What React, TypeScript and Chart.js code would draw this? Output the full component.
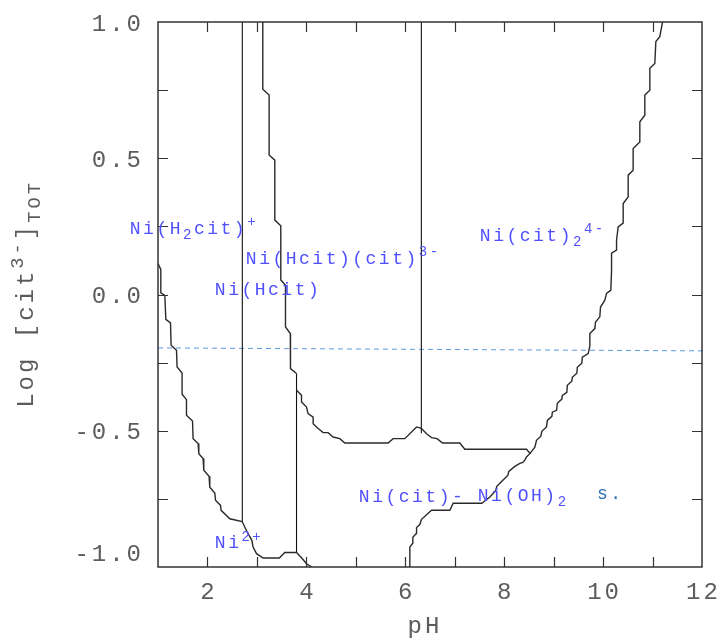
import React, { useEffect, useRef } from 'react';
import { Chart, registerables } from 'chart.js';
Chart.register(...registerables);

// Axis ticks
const pHTickLabels = [2, 4, 6, 8, 10, 12];
const pHMinorTicks = [2, 3, 4, 5, 6, 7, 8, 9, 10, 11];
const logTickLabels = [1.0, 0.5, 0.0, -0.5, -1.0];
const logMinorTicks = [0.75, 0.5, 0.25, 0.0, -0.25, -0.5, -0.75];

// Boundary: Ni(H2cit)+ / Ni2+ (left staircase + bottom)
const lowPH = [1.0, 1.057, 1.057, 1.138, 1.158, 1.253, 1.265, 1.374, 1.386, 1.487, 1.487, 1.576, 1.576, 1.698, 1.71, 1.811, 1.825, 1.912, 1.926, 2.033, 2.047, 2.149, 2.163, 2.264, 2.276, 2.452, 2.701, 2.796, 2.897, 2.923, 2.992, 3.125, 3.453, 3.564, 3.801, 3.902, 4.003, 4.11];
const lowLog = [0.114, 0.092, 0.006, -0.003, -0.091, -0.104, -0.186, -0.205, -0.266, -0.288, -0.366, -0.386, -0.443, -0.464, -0.529, -0.547, -0.584, -0.602, -0.645, -0.667, -0.707, -0.729, -0.755, -0.774, -0.792, -0.823, -0.833, -0.869, -0.902, -0.927, -0.951, -0.967, -0.967, -0.947, -0.947, -0.966, -0.988, -1.0];

// Boundary: Ni(Hcit) / Ni(Hcit)(cit)3-
const hcitPH = [3.119, 3.119, 3.247, 3.247, 3.362, 3.362, 3.483, 3.483, 3.578, 3.578, 3.675, 3.679, 3.801];
const hcitLog = [1.0, 0.753, 0.732, 0.512, 0.493, 0.273, 0.252, 0.053, 0.034, -0.119, -0.143, -0.272, -0.29];

// Boundary: Ni(cit)- / Ni(Hcit)(cit)3- , Ni(cit)2 4-
const midPH = [3.801, 3.902, 3.902, 4.003, 4.035, 4.137, 4.137, 4.238, 4.339, 4.44, 4.541, 4.676, 4.778, 5.653, 5.754, 5.991, 6.228, 6.325, 6.43, 6.531, 6.644, 6.753, 7.103, 7.204, 8.452, 8.529];
const midLog = [-0.351, -0.37, -0.394, -0.413, -0.437, -0.45, -0.474, -0.492, -0.507, -0.507, -0.523, -0.529, -0.545, -0.545, -0.529, -0.529, -0.486, -0.491, -0.511, -0.525, -0.529, -0.545, -0.545, -0.568, -0.568, -0.585];

// Boundary: Ni(OH)2 s.
const solidPH = [6.092, 6.092, 6.153, 6.153, 6.223, 6.228, 6.294, 6.329, 6.436, 6.531, 6.901, 6.968, 7.548, 7.71, 7.831, 7.851, 7.973, 8.074, 8.094, 8.216, 8.317, 8.377, 8.427, 8.452, 8.519, 8.62, 8.654, 8.741, 8.761, 8.856, 8.873, 8.964, 8.974, 9.059, 9.075, 9.166, 9.176, 9.267, 9.277, 9.368, 9.378, 9.469, 9.479, 9.57, 9.58, 9.698, 9.732, 9.732, 9.833, 9.847, 9.934, 9.948, 10.035, 10.07, 10.157, 10.171, 10.171, 10.272, 10.272, 10.305, 10.406, 10.406, 10.507, 10.507, 10.608, 10.608, 10.743, 10.743, 10.844, 10.844, 10.945, 10.945, 11.046, 11.067, 11.147, 11.202];
const solidLog = [-1.0, -0.927, -0.913, -0.891, -0.877, -0.855, -0.844, -0.825, -0.807, -0.792, -0.792, -0.766, -0.766, -0.743, -0.719, -0.704, -0.682, -0.664, -0.649, -0.631, -0.62, -0.616, -0.605, -0.596, -0.584, -0.56, -0.535, -0.52, -0.502, -0.486, -0.462, -0.447, -0.432, -0.425, -0.399, -0.384, -0.37, -0.359, -0.333, -0.318, -0.304, -0.289, -0.267, -0.252, -0.23, -0.217, -0.19, -0.143, -0.125, -0.101, -0.082, -0.046, -0.021, 0.004, 0.016, 0.089, 0.152, 0.163, 0.199, 0.248, 0.262, 0.334, 0.358, 0.438, 0.456, 0.536, 0.56, 0.634, 0.658, 0.732, 0.75, 0.83, 0.848, 0.928, 0.946, 1.0];

// Vertical boundaries
const vertPH = [2.705, 3.801, 6.325];
const vertTop = [1.0, -0.29, 1.0];
const vertBottom = [-0.833, -0.947, -0.509];

// Dashed reference line
const refPH = [1.0, 12.09];
const refLog = [-0.196, -0.207];

// Region labels
const regionLabels = ['Ni(H_{2}cit)^{+}', 'Ni(Hcit)(cit)^{3-}', 'Ni(Hcit)', 'Ni(cit)_{2}^{4-}', 'Ni^{2+}', 'Ni(cit)-', 'Ni(OH)_{2}', 's.'];
const labelPH = [0.43, 2.776, 2.149, 7.508, 2.149, 5.061, 7.467, 9.876];
const labelLog = [0.24, 0.13, 0.016, 0.214, -0.913, -0.744, -0.741, -0.733];
const labelColors = ['#5050ff', '#5050ff', '#5050ff', '#5050ff', '#5050ff', '#5050ff', '#5050ff', '#2f6fb0'];

const FONT = '"Liberation Mono", "DejaVu Sans Mono", monospace';

type Seg = { t: string; k: 'n' | 'sub' | 'sup' };
function parseRich(s: string): Seg[] {
  const segs: Seg[] = [];
  let i = 0;
  let buf = '';
  while (i < s.length) {
    const c = s[i];
    if ((c === '_' || c === '^') && s[i + 1] === '{') {
      if (buf) { segs.push({ t: buf, k: 'n' }); buf = ''; }
      const end = s.indexOf('}', i);
      segs.push({ t: s.slice(i + 2, end), k: c === '_' ? 'sub' : 'sup' });
      i = end + 1;
    } else {
      buf += c;
      i++;
    }
  }
  if (buf) segs.push({ t: buf, k: 'n' });
  return segs;
}

function richWidth(ctx: CanvasRenderingContext2D, segs: Seg[], size: number, spacing: number) {
  let w = 0;
  for (const s of segs) {
    const fs = s.k === 'n' ? size : size * 0.78;
    ctx.font = `${fs}px ${FONT}`;
    (ctx as any).letterSpacing = `${spacing}px`;
    w += ctx.measureText(s.t).width;
  }
  return w;
}

function drawRich(ctx: CanvasRenderingContext2D, segs: Seg[], x: number, y: number, size: number, spacing: number) {
  let cx = x;
  for (const s of segs) {
    const fs = s.k === 'n' ? size : size * 0.78;
    const dy = s.k === 'sub' ? size * 0.32 : s.k === 'sup' ? -size * 0.36 : 0;
    ctx.font = `${fs}px ${FONT}`;
    (ctx as any).letterSpacing = `${spacing}px`;
    ctx.fillText(s.t, cx, y + dy);
    cx += ctx.measureText(s.t).width;
  }
}

const framePlugin = {
  id: 'framePlugin',
  afterDraw(chart: any) {
    const { ctx, chartArea, scales } = chart;
    const xs = scales.x;
    const ys = scales.y;
    const { left, right, top, bottom } = chartArea;
    ctx.save();
    // frame
    ctx.strokeStyle = '#333';
    ctx.lineWidth = 1.5;
    ctx.strokeRect(left, top, right - left, bottom - top);
    // ticks
    ctx.lineWidth = 1.2;
    ctx.beginPath();
    for (const v of pHMinorTicks) {
      const px = Math.round(xs.getPixelForValue(v)) + 0.5;
      ctx.moveTo(px, bottom); ctx.lineTo(px, bottom - 10);
      ctx.moveTo(px, top); ctx.lineTo(px, top + 10);
    }
    for (const v of logMinorTicks) {
      const py = Math.round(ys.getPixelForValue(v)) + 0.5;
      ctx.moveTo(left, py); ctx.lineTo(left + 10, py);
      ctx.moveTo(right, py); ctx.lineTo(right - 10, py);
    }
    ctx.stroke();

    // tick labels
    ctx.fillStyle = '#5c5c5c';
    ctx.font = `24px ${FONT}`;
    (ctx as any).letterSpacing = '3px';
    ctx.textBaseline = 'middle';
    ctx.textAlign = 'center';
    for (const v of pHTickLabels) {
      const px = xs.getPixelForValue(v);
      ctx.fillText(String(v), px + 1.5, bottom + 26);
    }
    ctx.textAlign = 'right';
    for (const v of logTickLabels) {
      let py = ys.getPixelForValue(v) + 2;
      if (py > bottom - 12) py = bottom - 12;
      if (py < top + 3) py = top + 3;
      const txt = v.toFixed(1);
      ctx.fillText(txt, left - 14, py);
    }

    // axis titles
    ctx.textAlign = 'center';
    ctx.fillText('pH', 425, 627);
    ctx.textAlign = 'left';
    const ySegs = parseRich('Log [cit^{3-}]_{TOT}');
    ctx.save();
    ctx.translate(27, 294);
    ctx.rotate(-Math.PI / 2);
    const w = richWidth(ctx, ySegs, 24, 3);
    drawRich(ctx, ySegs, -w / 2, 0, 24, 3);
    ctx.restore();

    // region labels
    ctx.textAlign = 'left';
    ctx.textBaseline = 'middle';
    regionLabels.forEach((lab, i) => {
      ctx.fillStyle = labelColors[i];
      const px = xs.getPixelForValue(labelPH[i]);
      const py = ys.getPixelForValue(labelLog[i]);
      drawRich(ctx, parseRich(lab), px, py, 18, 2.5);
    });
    ctx.restore();
  },
};

function pts(xsArr: number[], ysArr: number[]) {
  return xsArr.map((x, i) => ({ x, y: ysArr[i] }));
}

export default function App() {
  const ref = useRef<HTMLCanvasElement>(null);
  useEffect(() => {
    if (!ref.current) return;
    const lineStyle = { showLine: true, pointRadius: 0, fill: false, tension: 0 };
    const datasets: any[] = [
      { ...lineStyle, data: pts(lowPH, lowLog), borderColor: '#2a2a2a', borderWidth: 1.4 },
      { ...lineStyle, data: pts(hcitPH, hcitLog), borderColor: '#2a2a2a', borderWidth: 1.4 },
      { ...lineStyle, data: pts(midPH, midLog), borderColor: '#2a2a2a', borderWidth: 1.4 },
      { ...lineStyle, data: pts(solidPH, solidLog), borderColor: '#2a2a2a', borderWidth: 1.4 },
      ...vertPH.map((p, i) => ({
        ...lineStyle,
        data: [{ x: p, y: vertTop[i] }, { x: p, y: vertBottom[i] }],
        borderColor: '#111',
        borderWidth: 1.1,
      })),
      { ...lineStyle, data: pts(refPH, refLog), borderColor: '#5a9be0', borderWidth: 1, borderDash: [5, 4], clip: false },
    ];
    const chart = new Chart(ref.current, {
      type: 'scatter',
      data: { datasets },
      options: {
        animation: false,
        responsive: false,
        devicePixelRatio: 1,
        layout: { padding: { left: 158, top: 22, right: 18, bottom: 73 } },
        plugins: { legend: { display: false }, tooltip: { enabled: false } },
        scales: {
          x: { type: 'linear', min: 1, max: 12, display: false },
          y: { type: 'linear', min: -1, max: 1, display: false },
        },
      },
      plugins: [framePlugin],
    });
    return () => chart.destroy();
  }, []);
  return (
    <div style={{ position: 'absolute', left: 0, top: 0, width: 720, height: 640, background: '#fff' }}>
      <canvas ref={ref} width={720} height={640} />
    </div>
  );
}
